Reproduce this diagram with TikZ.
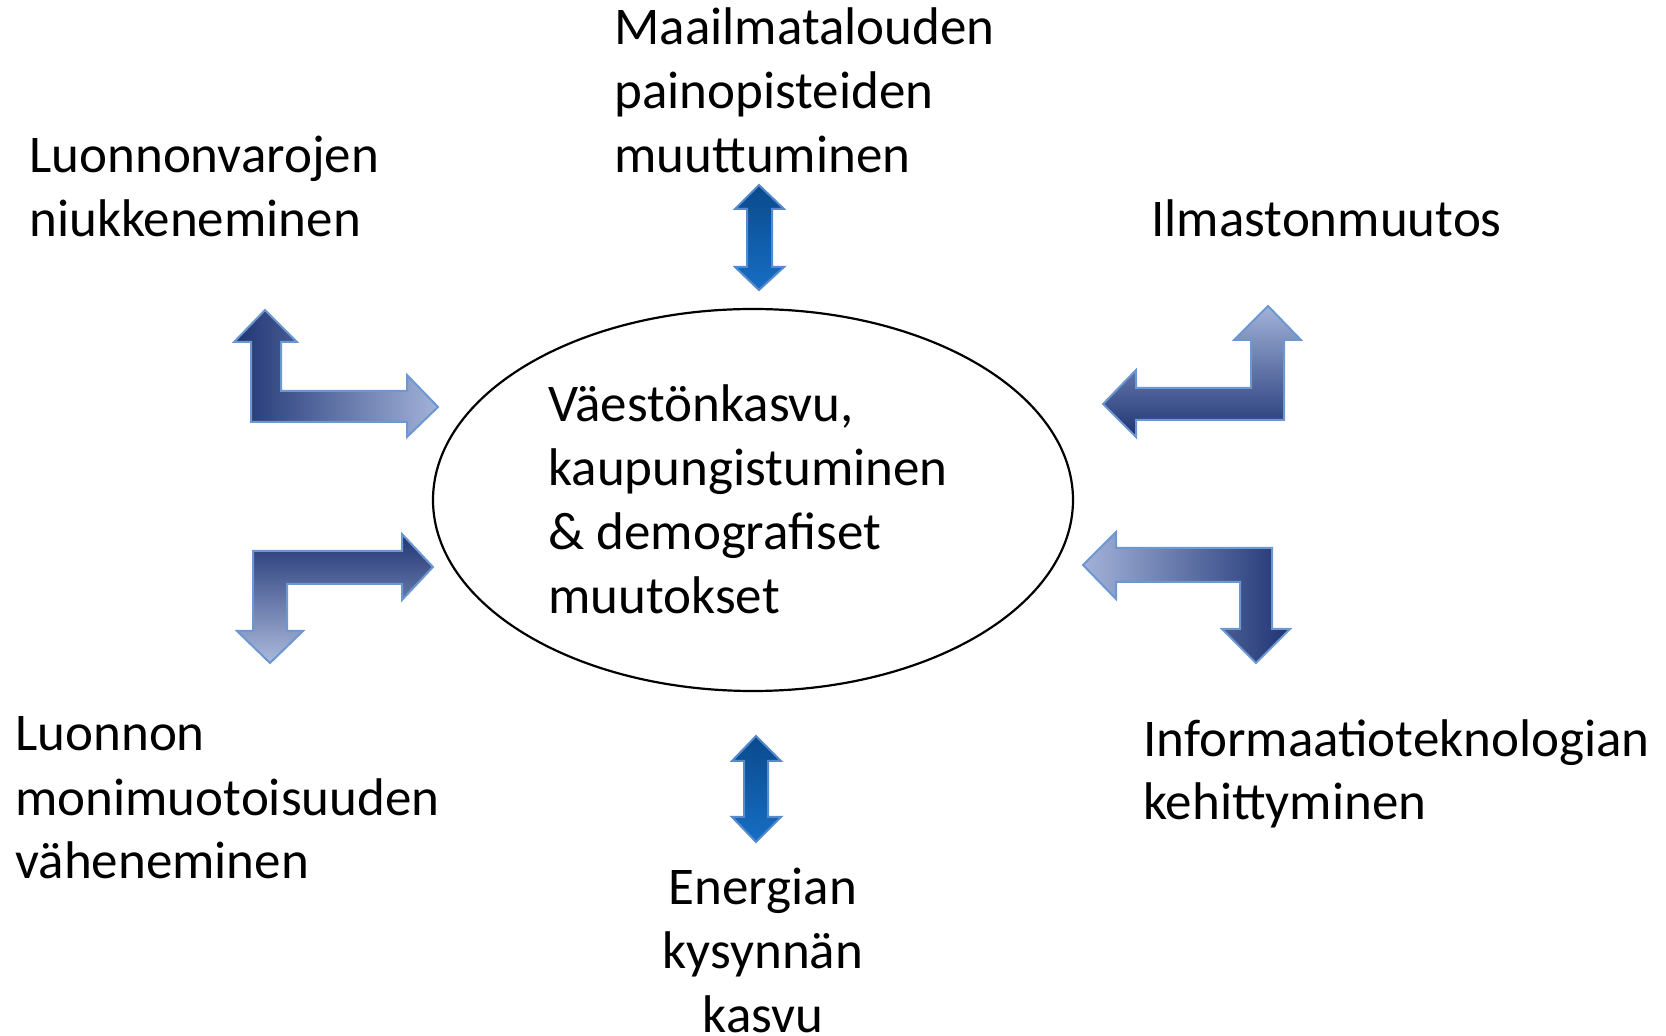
\documentclass[tikz,border=0pt]{standalone}
\usepackage{fontspec}
\setmainfont{Carlito}
\usetikzlibrary{shapes.geometric}
\definecolor{navydark}{RGB}{31,52,116}
\definecolor{navylight}{RGB}{162,178,216}
\definecolor{arrowedge}{RGB}{108,152,210}
\definecolor{bluetop}{RGB}{10,74,140}
\definecolor{bluebottom}{RGB}{22,110,196}
\definecolor{bluedge}{RGB}{86,138,204}
\tikzset{
  bentarrow/.style={draw=arrowedge, line width=1pt, line join=miter},
  dblarrow/.style={draw=bluedge, line width=1pt, top color=bluetop, bottom color=bluebottom},
  label/.style={anchor=base west, inner sep=0pt, align=left, font=\fontsize{26.5}{32}\selectfont}
}

\begin{document}
\begin{tikzpicture}[x=0.5pt,y=-0.5pt]
\useasboundingbox (0,0) rectangle (1666,1036);

%Shape: Ellipse
\node [draw, ellipse, line width=1.1pt, minimum width=320pt, minimum height=191pt, inner sep=0pt] (kasvu) at (753,500) {};

% Text Node (placed at baseline of last line)
\node [label] (vaesto) at (548,614) {Väestönkasvu,\\kaupungistuminen\\\& demografiset\\muutokset};
% Text Node
\node [label] (maailma) at (614,173) {Maailmatalouden\\painopisteiden\\muuttuminen};
% Text Node
\node [label] (varat) at (29,237) {Luonnonvarojen\\niukkeneminen};
% Text Node
\node [label] (ilmasto) at (1151,237) {Ilmastonmuutos};
% Text Node
\node [label] (luonto) at (15,879) {Luonnon\\monimuotoisuuden\\väheneminen};
% Text Node
\node [label] (tieto) at (1143,820) {Informaatioteknologian\\kehittyminen};
% Text Node
\node [label, anchor=base, align=center] (energia) at (763,1032) {Energian\\kysynnän\\kasvu};

%Shape: Bent Arrow (top left)
\draw [bentarrow, left color=navydark, right color=navylight] (265,310) -- (297,342) -- (281,342) -- (281,391) -- (407,391) -- (407,375) -- (438,407) -- (407,437) -- (407,422) -- (251,422) -- (251,342) -- (234,342) -- cycle;
%Shape: Bent Arrow (bottom left)
\draw [bentarrow, top color=navydark, bottom color=navylight!90] (253,551) -- (402,551) -- (402,534) -- (433,567) -- (402,600) -- (402,584) -- (287,584) -- (287,631) -- (303,631) -- (270,663) -- (237,631) -- (253,631) -- cycle;
%Shape: Bent Arrow (top right)
\draw [bentarrow, top color=navylight, bottom color=navydark] (1268,306) -- (1301,340) -- (1284,340) -- (1284,420) -- (1136,420) -- (1136,437) -- (1103,404) -- (1136,370) -- (1136,388) -- (1251,388) -- (1251,340) -- (1234,340) -- cycle;
%Shape: Bent Arrow (bottom right)
\draw [bentarrow, left color=navylight, right color=navydark] (1083,565) -- (1116,532) -- (1116,548) -- (1272,548) -- (1272,629) -- (1290,629) -- (1256,663) -- (1222,629) -- (1240,629) -- (1240,582) -- (1116,582) -- (1116,599) -- cycle;

%Shape: Up Down Arrow (top)
\draw [dblarrow] (759,185) -- (784,209) -- (772,209) -- (772,267) -- (784,267) -- (759,290) -- (735,267) -- (747,267) -- (747,209) -- (735,209) -- cycle;
%Shape: Up Down Arrow (bottom)
\draw [dblarrow] (756,736) -- (781,761) -- (768,761) -- (768,817) -- (781,817) -- (756,842) -- (732,817) -- (744,817) -- (744,761) -- (732,761) -- cycle;

\end{tikzpicture}
\end{document}
